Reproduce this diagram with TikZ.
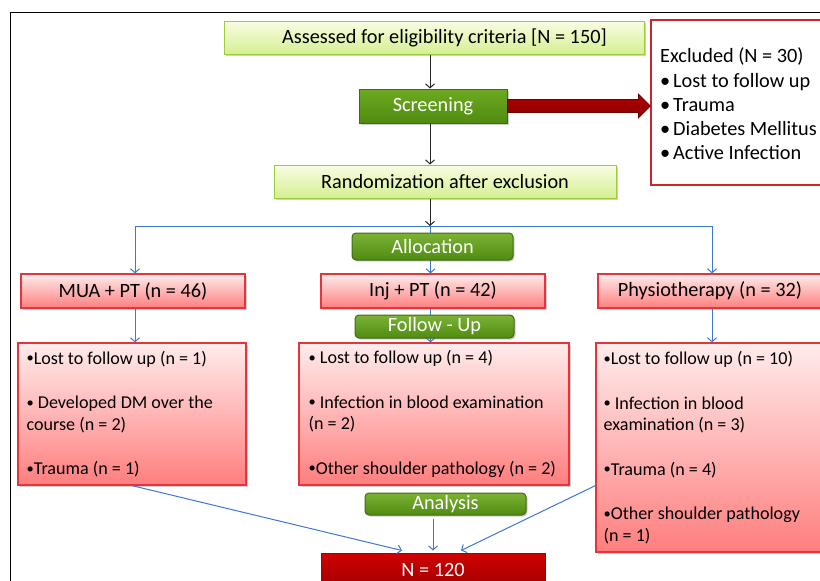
\documentclass[tikz,border=0pt]{standalone}
\usepackage{fontspec}
\setmainfont{Carlito}
\usetikzlibrary{arrows.meta,shadows,calc}
\definecolor{ytop}{HTML}{F8FDE2}
\definecolor{ybot}{HTML}{D6EF92}
\definecolor{ybord}{HTML}{9CCB3E}
\definecolor{gtop}{HTML}{6DAA20}
\definecolor{gbot}{HTML}{508B11}
\definecolor{gbord}{HTML}{3F6C0E}
\definecolor{rtop}{HTML}{FFECEC}
\definecolor{rbot}{HTML}{FF7E7E}
\definecolor{rbord}{HTML}{E5343B}
\definecolor{ntop}{HTML}{D00000}
\definecolor{nbot}{HTML}{A20000}
\definecolor{exbord}{HTML}{C8262E}
\definecolor{blu}{HTML}{3C78D2}
\definecolor{atop}{HTML}{B00000}
\definecolor{abot}{HTML}{8A0000}
\newcommand{\sbul}{\raisebox{0.08em}{\scalebox{0.8}{•}}}
\begin{document}
\begin{tikzpicture}[x=1pt,y=-1pt,
  every node/.style={font=\fontsize{20.3pt}{24pt}\selectfont, inner sep=0pt},
  smalltext/.style={font=\fontsize{18.1pt}{21.5pt}\selectfont},
  shadowed/.style={drop shadow={shadow xshift=1.5pt,shadow yshift=-1.5pt,opacity=0.3,fill=black!60}},
  ybox/.style={rectangle, draw=ybord, line width=1pt, top color=ytop, bottom color=ybot, shadowed},
  gbox/.style={rectangle, draw=gbord, line width=1pt, top color=gtop, bottom color=gbot, text=white, shadowed},
  rgbox/.style={rectangle, rounded corners=4pt, draw=gbord, line width=1pt, top color=gtop!90!white, bottom color=gbot, text=white, shadowed},
  rbox/.style={rectangle, draw=rbord, line width=1.2pt, top color=rtop, bottom color=rbot, shadowed},
  nbox/.style={rectangle, draw=ntop!80!black, line width=1pt, top color=ntop, bottom color=nbot, text=white},
  exbox/.style={rectangle, draw=exbord, line width=1.2pt, fill=white},
  boxtext/.style={anchor=west, align=left},
  blk/.style={draw=black!85, line width=1pt, -{Straight Barb[length=4pt,width=9pt]}},
  bluline/.style={draw=blu, line width=1pt},
  bluarr/.style={draw=blu, line width=1pt, -{Straight Barb[length=4pt,width=9pt]}},
]
\useasboundingbox (0,0) rectangle (820,581);
\clip (0,0) rectangle (820,581);
\fill[white] (0,0) rectangle (820,581);
\draw[line width=1.3pt] (10.5,581) -- (10.5,12.3) -- (820,12.3);

\coordinate (colx) at (430,0);
\node[ybox, minimum width=420pt, minimum height=33pt] (assess) at (434,37.5) {\hspace*{21pt}Assessed for eligibility criteria [N = 150]};
\node[gbox, minimum width=148pt, minimum height=34pt] (scr) at (433,106) {Screening};
\node[ybox, minimum width=342pt, minimum height=33pt] (rand) at (445,181.5) {Randomization after exclusion};
\node[exbox, minimum width=184pt, minimum height=165pt] (excl) at (743,102.5) {};
\node[boxtext, font=\fontsize{20.3pt}{24.3pt}\selectfont] (exclt) at (660,104) {Excluded (N = 30)\\
\makebox[13pt][l]{•}Lost to follow up\\
\makebox[13pt][l]{•}Trauma\\
\makebox[13pt][l]{•}Diabetes Mellitus\\
\makebox[13pt][l]{•}Active Infection};

\draw[blk] (assess.south -| colx) -- (scr.north -| colx);
\draw[blk] (scr.south -| colx) -- (rand.north -| colx);
\path[draw=abot!80!black, line width=0.8pt, top color=atop, bottom color=abot]
  ($(scr.east)+(0,-6.5)$) -- ($(excl.west |- scr.east)+(-12,-6.5)$) -- ($(excl.west |- scr.east)+(-12,-12)$)
  -- (excl.west |- scr.east) -- ($(excl.west |- scr.east)+(-12,12)$) -- ($(excl.west |- scr.east)+(-12,6.5)$)
  -- ($(scr.east)+(0,6.5)$) -- cycle;

% treatment groups
\node[rbox, minimum width=224pt, minimum height=34pt] (mua) at (133,291) {MUA + PT (n = 46)};
\node[rbox, minimum width=224pt, minimum height=34pt] (inj) at (433,291) {Inj + PT (n = 42)};
\node[rbox, minimum width=224pt, minimum height=34pt] (phy) at (710,291) {Physiotherapy (n = 32)};

\node[rbox, minimum width=228pt, minimum height=142pt] (mual) at (132,414) {};
\node[rbox, minimum width=270pt, minimum height=142pt] (injl) at (434,414) {};
\node[rbox, minimum width=232pt, minimum height=209pt] (phyl) at (712,447.5) {};

\node[boxtext, smalltext] (mualt) at ($(mual.west)+(9,0)$) {\sbul Lost to follow up (n = 1)\\[23pt]
\sbul\ Developed DM over the\\ course (n = 2)\\[23pt]
\sbul Trauma (n = 1)};
\node[boxtext, smalltext] (injlt) at ($(injl.west)+(10,0)$) {\sbul\ Lost to follow up (n = 4)\\[23pt]
\sbul\ Infection in blood examination\\ (n = 2)\\[23pt]
\sbul Other shoulder pathology (n = 2)};
\node[boxtext, smalltext] (phylt) at ($(phyl.west)+(8,0)$) {\sbul Lost to follow up (n = 10)\\[23pt]
\sbul\ Infection in blood\\ examination (n = 3)\\[23pt]
\sbul Trauma (n = 4)\\[23pt]
\sbul Other shoulder pathology\\ (n = 1)};

\node[nbox, minimum width=224pt, minimum height=34pt] (nres) at (433,570) {N = 120};

% blue distribution lines
\coordinate (bj) at (430.5,226);
\coordinate (bl) at (135,226);
\coordinate (br) at (712,226);
\draw[blk] (rand.south -| colx) -- (colx |- bj);
\draw[bluline] (bl) -- (br);
\draw[bluarr] (bl) -- (mua.north -| bl);
\draw[bluarr] (bj) -- (inj.north -| bj);
\draw[bluarr] (br) -- (phy.north -| br);
\draw[bluarr] (mua.south -| bl) -- (mual.north -| bl);
\draw[bluarr] (inj.south -| bj) -- (injl.north -| bj);
\draw[bluarr] (phy.south -| br) -- (phyl.north -| br);

\node[rgbox, minimum width=161pt, minimum height=27pt] (alloc) at (432.5,246.5) {Allocation};
\node[rgbox, minimum width=159pt, minimum height=23pt] (follow) at (434.5,326.5) {Follow - Up};
\node[rgbox, minimum width=161pt, minimum height=22pt] (anal) at (445.5,504) {Analysis};

\draw[bluarr] (mual.south) -- ($(nres.north)+(-31,-2)$);
\draw[bluarr] ($(anal.south -| nres.north)+(0,3)$) -- ($(nres.north)+(0,-2)$);
\draw[bluarr] (phyl.west |- mual.south) -- ($(nres.north)+(28,-2)$);
\end{tikzpicture}
\end{document}
